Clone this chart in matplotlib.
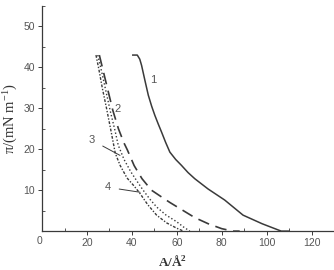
import matplotlib.pyplot as plt
from matplotlib.ticker import MultipleLocator

# isotherm data (A in A^2, pi in mN/m)
a1 = [40.4, 42.4, 43.5, 44.3, 45.8, 47.3, 48.8, 50.2, 51.7, 53.2, 55.0, 56.9, 59.5, 62.0,
      65.0, 68.0, 73.9, 81.3, 89.5, 98.0, 106.5, 110.0]
p1 = [43.0, 43.0, 42.0, 40.5, 36.8, 33.2, 30.5, 28.3, 26.2, 24.2, 21.7, 19.3, 17.5, 16.1,
      14.3, 12.8, 10.3, 7.6, 3.9, 1.8, 0.0, 0.0]

a2 = [25.5, 27.5, 29.5, 31.5, 34.0, 36.5, 38.0, 41.0, 44.5, 48.7, 52.5, 56.9, 62.0, 68.0,
      74.0, 80.0, 85.0, 88.0]
p2 = [43.0, 38.5, 34.0, 29.5, 25.0, 21.5, 19.8, 16.0, 12.8, 10.0, 8.6, 7.0, 5.3, 3.3,
      1.8, 0.6, 0.0, 0.0]

a3 = [24.8, 26.5, 28.5, 30.5, 32.5, 33.9, 36.5, 39.5, 42.5, 45.0, 48.0, 51.0, 55.0, 59.9,
      63.0, 65.8]
p3 = [43.0, 39.0, 34.0, 29.0, 24.5, 21.0, 17.5, 14.5, 12.0, 10.0, 7.8, 5.9, 4.0, 2.3,
      1.0, 0.0]

a4 = [24.0, 25.3, 26.8, 28.7, 30.5, 31.9, 32.6, 34.8, 37.8, 41.0, 43.6, 47.0, 51.0, 55.5,
      60.0, 63.0]
p4 = [43.0, 39.5, 35.0, 30.0, 25.0, 21.0, 19.0, 16.0, 13.0, 11.0, 9.2, 6.5, 3.9, 2.0,
      0.7, 0.0]

labels = ["1", "2", "3", "4"]
label_xy = [(49.3, 37.0), (33.8, 29.8), (22.2, 22.2), (29.3, 10.7)]
arrow_to = [None, None, (34.7, 18.5), (43.6, 9.5)]

x_ticks = [20, 40, 60, 80, 100, 120]
y_ticks = [10, 20, 30, 40, 50]

col = "#3a3a3a"
fig = plt.figure(figsize=(3.34, 2.70), dpi=100)
ax = fig.add_axes([0.126, 0.144, 0.874, 0.834])

ax.plot(a1, p1, color=col, lw=1.1, ls="-")
ax.plot(a2, p2, color=col, lw=1.2, ls=(0, (7, 4)))
ax.plot(a3, p3, color=col, lw=1.0, ls=(0, (1, 1.6)))
ax.plot(a4, p4, color=col, lw=1.0, ls=(0, (2, 1.2, 1, 1.2)))

for lab, xy, tgt in zip(labels, label_xy, arrow_to):
    if tgt is None:
        ax.text(xy[0], xy[1], lab, fontsize=8, color="#555555", family="Liberation Sans",
                ha="center", va="center")
    else:
        ax.annotate(lab, xy=tgt, xytext=xy, fontsize=8, color="#555555",
                    family="Liberation Sans", ha="center", va="center",
                    arrowprops=dict(arrowstyle="-", color=col, lw=0.7,
                                    shrinkA=4, shrinkB=0))

ax.set_xlim(0, 130)
ax.set_ylim(0, 55)
ax.spines["top"].set_visible(False)
ax.spines["right"].set_visible(False)
for s in ["left", "bottom"]:
    ax.spines[s].set_color(col)
    ax.spines[s].set_linewidth(0.9)

ax.set_xticks(x_ticks)
ax.set_yticks(y_ticks)
ax.xaxis.set_minor_locator(MultipleLocator(10))
ax.yaxis.set_minor_locator(MultipleLocator(5))
ax.tick_params(which="major", direction="out", length=3, width=0.7, colors=col,
               labelsize=7.5, labelcolor="#555555", pad=2)
ax.tick_params(which="minor", direction="in", length=2, width=0.6, colors=col)
for t in ax.get_xticklabels() + ax.get_yticklabels():
    t.set_family("Liberation Sans")
ax.text(0.3, -1.3, "0", fontsize=7.5, color="#555555", family="Liberation Sans",
        ha="right", va="top", clip_on=False)

ax.set_xlabel("A/Å$\\mathregular{^2}$", fontsize=9.5, fontweight="bold",
              family="Liberation Serif", color="#333333", va="center")
ax.xaxis.set_label_coords(58 / 130, -0.135)
ax.set_ylabel("π/(mN m$\\mathregular{^{-1}}$)", fontsize=10.5, family="Liberation Serif",
              color="#333333", va="center")
ax.yaxis.set_label_coords(-0.108, 0.5)

fig.savefig("out.png", dpi=100)
